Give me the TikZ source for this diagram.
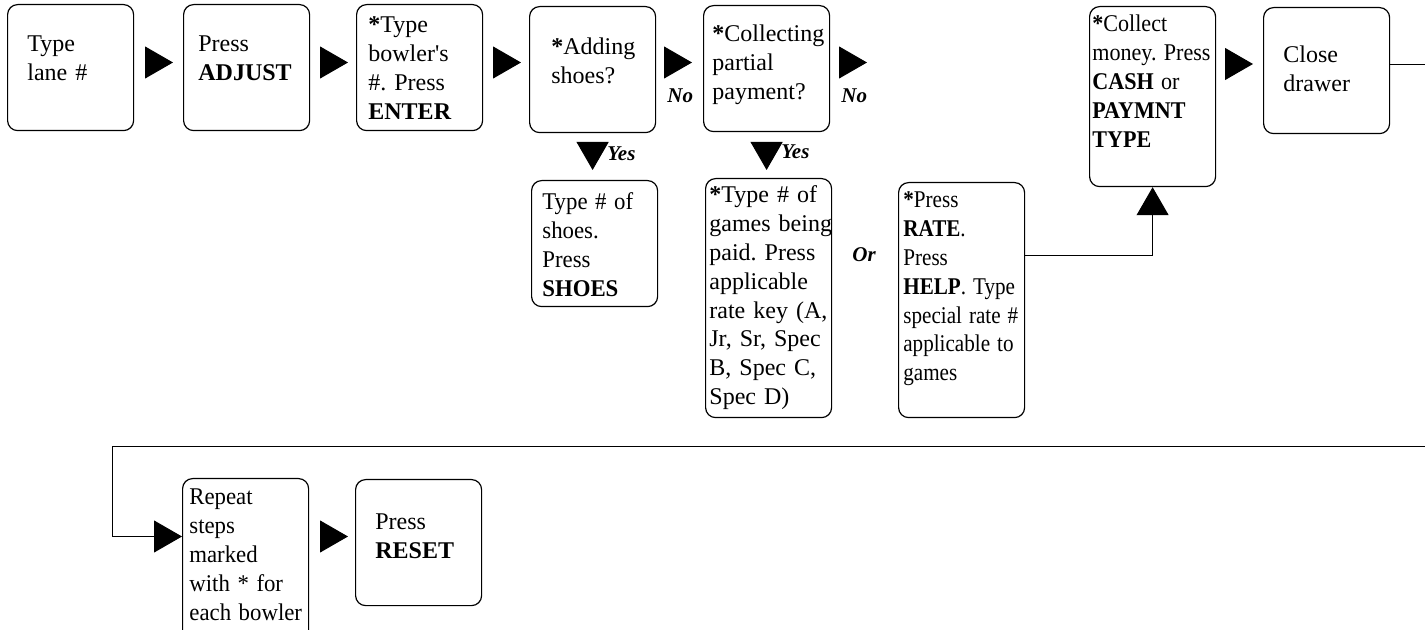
\documentclass[tikz,border=0pt]{standalone}
\usepackage{fontspec}
\setmainfont{Liberation Serif}
\usetikzlibrary{arrows.meta}

\tikzset{
	caja/.style={draw, line width=0.6pt, rounded corners=5pt, anchor=north west, minimum width=63pt, minimum height=63pt, inner sep=0pt},
	texto/.style={anchor=base west, align=left, inner sep=0pt, text width=100pt, font=\fontsize{12}{14.4}\selectfont\frenchspacing},
	estrecho/.style={xscale=#1, transform shape},
	etiqueta/.style={anchor=base west, inner sep=0pt, font=\fontsize{10.5}{12}\selectfont\bfseries\itshape},
	flecha/.style={-{Triangle[length=14pt, width=16pt]}, line width=0.5pt}
}

\begin{document}
\begin{tikzpicture}[x=0.5pt, y=-0.5pt]
	\path[use as bounding box, clip] (0,0) rectangle (1425,630);
	% Fila superior
		% Cajas
			\node[caja] (lane) at (7,4) {};
			\node[caja] (adjust) at (183,4) {};
			\node[caja] (bowler) at (356,4) {};
			\node[caja] (adding) at (529,6) {};
			\node[caja] (collecting) at (703,5) {};
			\node[caja, minimum height=90pt] (collect) at (1089,6) {};
			\node[caja] (close) at (1263,7) {};
		% Textos
			\node[texto] (lane-t) at ([shift={(20,48)}]lane.north west) {Type\\lane \#};
			\node[texto] (adjust-t) at ([shift={(15,48)}]adjust.north west) {Press\\\textbf{ADJUST}};
			\node[texto] (bowler-t) at ([shift={(12,29)}]bowler.north west) {\textbf{*}Type\\bowler\textquotesingle s\\\#. Press\\\textbf{ENTER}};
			\node[texto] (adding-t) at ([shift={(22,49)}]adding.north west) {\textbf{*}Adding\\shoes?};
			\node[texto] (collecting-t) at ([shift={(9,37)}]collecting.north west) {\textbf{*}Collecting\\partial\\payment?};
			\node[texto, estrecho=0.92] (collect-t) at ([shift={(3,26)}]collect.north west) {\textbf{*}Collect\\money. Press\\\textbf{CASH} or\\\textbf{PAYMNT}\\\textbf{TYPE}};
			\node[texto] (close-t) at ([shift={(20,56)}]close.north west) {Close\\drawer};

	% Ramas
		\node[caja] (shoes) at (531,180) {};
		\node[caja, minimum height=119.5pt] (games) at (705,178) {};
		\node[caja, minimum height=117.5pt] (rate) at (898,182) {};
		\node[texto, estrecho=0.95] (shoes-t) at ([shift={(11,30)}]shoes.north west) {Type \# of\\shoes.\\Press\\\textbf{SHOES}};
		\node[texto] (games-t) at ([shift={(4,25)}]games.north west) {\textbf{*}Type \# of\\games being\\paid. Press\\applicable\\rate key (A,\\Jr, Sr, Spec\\B, Spec C,\\Spec D)};
		\node[texto, estrecho=0.88] (rate-t) at ([shift={(5,26)}]rate.north west) {\textbf{*}Press\\\textbf{RATE}.\\Press\\\textbf{HELP}. Type\\special rate \#\\applicable to\\games};

	% Fila inferior
		\node[caja, minimum height=85pt] (repeat) at (182,478) {};
		\node[caja] (reset) at (355,479) {};
		\node[texto, estrecho=0.95] (repeat-t) at ([shift={(7,27)}]repeat.north west) {Repeat\\steps\\marked\\with * for\\each bowler};
		\node[texto] (reset-t) at ([shift={(20,51)}]reset.north west) {Press\\\textbf{RESET}};

	% Etiquetas
		\node[etiqueta] (no1) at (667,103) {No};
		\node[etiqueta] (no2) at (841,103) {No};
		\node[etiqueta] (yes1) at (607,161) {Yes};
		\node[etiqueta] (yes2) at (781,159) {Yes};
		\node[etiqueta] (or) at (852,262) {Or};

	% Flechas
		\coordinate (sigue) at (867,62.5);
		\draw[flecha, shorten <=6pt, shorten >=5pt] (lane.east |- 0,62.5) -- (adjust.west |- 0,62.5);
		\draw[flecha, shorten <=5.5pt, shorten >=4pt] (adjust.east |- 0,62.5) -- (bowler.west |- 0,62.5);
		\draw[flecha, shorten <=5.5pt, shorten >=4pt] (bowler.east |- 0,62.5) -- (adding.west |- 0,62.5);
		\draw[flecha, shorten <=4.5pt, shorten >=5.5pt] (adding.east |- 0,62.5) -- (collecting.west |- 0,62.5);
		\draw[flecha, shorten <=5pt] (collecting.east |- sigue) -- (sigue);
		\draw[flecha, shorten <=5pt, shorten >=5pt] (collect.east |- 0,64) -- (close.west |- 0,64);
		\draw[flecha, shorten <=5pt, shorten >=5pt] (adding.south) -- (adding.south |- shoes.north);
		\draw[flecha, shorten <=5pt, shorten >=4pt] (collecting.south) -- (collecting.south |- games.north);
		\draw[flecha] (rate.east |- 0,256) -| (collect.south);
		% Vuelta
		\draw[flecha] (close.east |- 0,65) -- ++(60,0) |- (112,447) |- (repeat.west |- 0,536.5);
		\draw[flecha, shorten <=6pt, shorten >=3.5pt] (repeat.east |- 0,536.5) -- (reset.west |- 0,536.5);
\end{tikzpicture}
\end{document}
